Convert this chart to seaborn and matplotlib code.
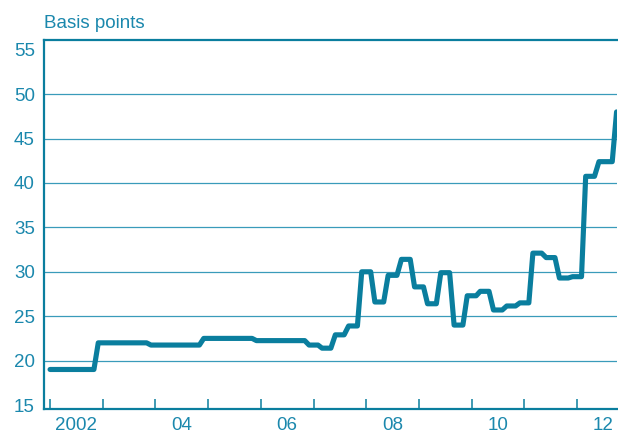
import numpy as np
import pandas as pd
import matplotlib
matplotlib.use("Agg")
import matplotlib.pyplot as plt
import matplotlib.dates as mdates
import matplotlib.ticker as mticker
import seaborn as sns

# Data: levels held over three-month spans, Jan 2002 - Oct 2012
season_values = [19.0, 19.0, 19.0, 19.0,
                 22.0, 22.0, 22.0, 22.0,
                 21.75, 21.75, 21.75, 21.75,
                 22.5, 22.5, 22.5, 22.5,
                 22.25, 22.25, 22.25, 22.25,
                 21.75, 21.4, 22.9, 23.9,
                 30.0, 26.6, 29.6, 31.4,
                 28.3, 26.4, 29.9, 24.0,
                 27.3, 27.8, 25.7, 26.15,
                 26.5, 32.1, 31.6, 29.3,
                 29.45, 40.75, 42.4, 48.0]
months_per_season = [2] + [3] * 41 + [4, 1]
year_labels = ["2002", "04", "06", "08", "10", "12"]
label_years = [2002, 2004, 2006, 2008, 2010, 2012]
y_ticks = [15, 20, 25, 30, 35, 40, 45, 50, 55]

dates = pd.date_range("2002-01-01", periods=sum(months_per_season), freq="MS")
df = pd.DataFrame({"date": dates,
                   "bp": np.repeat(season_values, months_per_season)})

teal_line = "#0a7e9e"
teal_text = "#1b88ad"
teal_grid = "#3a9bba"

sns.set_style("white")
plt.rcParams["font.family"] = ["Liberation Sans", "DejaVu Sans"]

fig = plt.figure(figsize=(6.18, 4.34), dpi=100)
ax = fig.add_axes([44 / 618, 25 / 434, 573 / 618, 369 / 434])

sns.lineplot(data=df, x="date", y="bp", ax=ax, color=teal_line,
             linewidth=3.7, zorder=3)

ax.set_ylim(14.55, 56.1)
ax.set_xlim(pd.Timestamp("2001-11-20"), pd.Timestamp("2012-10-04"))
ax.set_yticks(y_ticks)
ax.set_yticklabels([str(v) for v in y_ticks])

# year boundaries get tick marks, labels sit mid-year
ax.xaxis.set_major_locator(mdates.YearLocator())
ax.xaxis.set_major_formatter(mticker.NullFormatter())
mid = [mdates.date2num(pd.Timestamp(f"{y}-07-02")) for y in label_years]
ax.xaxis.set_minor_locator(mticker.FixedLocator(mid))
ax.xaxis.set_minor_formatter(mticker.FixedFormatter(year_labels))

ax.tick_params(axis="x", which="major", direction="in", length=7.5,
               width=1.1, color=teal_line, bottom=True)
ax.tick_params(axis="x", which="minor", length=0, pad=5.5,
               labelsize=13.5, labelcolor=teal_text)
ax.tick_params(axis="y", length=0, pad=6.5, labelsize=13.5,
               labelcolor=teal_text)

ax.grid(axis="y", color=teal_grid, linewidth=0.9)
ax.grid(axis="x", visible=False)
gl = ax.yaxis.get_gridlines()
gl[0].set_visible(False)
gl[-1].set_visible(False)

for side in ["left", "top", "bottom"]:
    ax.spines[side].set_color(teal_line)
    ax.spines[side].set_linewidth(1.6)
ax.spines["right"].set_visible(False)

ax.set_xlabel("")
ax.set_ylabel("")

fig.text(44 / 618, 1 - 27.5 / 434, "Basis points", fontsize=13.5,
         color=teal_text, va="baseline", ha="left")

fig.savefig("out.png", dpi=100)
